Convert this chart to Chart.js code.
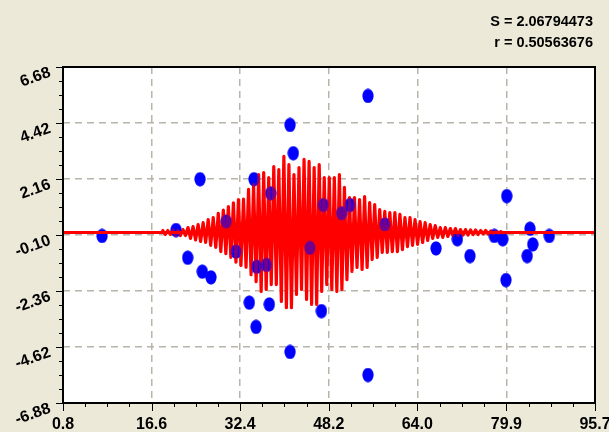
<!DOCTYPE html>
<html>
<head>
<meta charset="utf-8">
<script src="https://cdn.jsdelivr.net/npm/chart.js@4.4.1/dist/chart.umd.min.js"></script>
<style>
  html, body { margin: 0; padding: 0; background: #ece9d8; }
  canvas { display: block; }
</style>
</head>
<body>
<canvas id="residualChart" width="609" height="432"></canvas>
<script>
// axis ticks
const xTicks = [0.8, 16.6, 32.4, 48.2, 64.0, 79.9, 95.7];
const xTickLabels = ['0.8', '16.6', '32.4', '48.2', '64.0', '79.9', '95.7'];
const yTicks = [6.68, 4.42, 2.16, -0.10, -2.36, -4.62, -6.88];
const yTickLabels = ['6.68', '4.42', '2.16', '-0.10', '-2.36', '-4.62', '-6.88'];

// fit statistics shown top right
const statLines = ['S = 2.06794473', 'r = 0.50563676'];

// residual points
const pointX = [7.76, 20.96, 23.05, 25.65, 27.2, 25.24, 34.03, 37.6, 34.87, 41.88,
  46.9, 37.85, 35.35, 37.1, 31.66, 29.9, 47.23, 50.5, 52.0, 41.3,
  55.2, 41.3, 55.2, 35.23, 44.86, 58.2, 67.34, 71.14, 73.4, 77.75,
  79.24, 79.96, 79.82, 84.1, 84.6, 83.6, 87.55];
const pointY = [-0.14, 0.10, -1.02, -1.58, -1.81, 2.15, -2.83, -2.90, 2.15, 3.20,
  -3.17, 1.58, -1.38, -1.31, -0.77, 0.44, 1.11, 0.78, 1.11, 4.34,
  5.51, -4.82, -5.75, -3.81, -0.62, 0.32, -0.64, -0.27, -0.95, -0.14,
  -0.27, 1.47, -1.92, 0.15, -0.48, -0.95, -0.14];

// oscillating fit curve (alternating crest / trough samples)
const waveX = [
  18.6, 19.05, 19.5, 19.95, 20.4, 20.85, 21.3, 21.75, 22.2, 22.65,
  23.1, 23.55, 24.0, 24.45, 24.9, 25.35, 25.8, 26.25, 26.7, 27.15,
  27.6, 28.05, 28.5, 28.95, 29.4, 29.85, 30.3, 30.75, 31.2, 31.65,
  32.1, 32.55, 33.0, 33.45, 33.9, 34.35, 34.8, 35.25, 35.7, 36.15,
  36.6, 37.05, 37.5, 37.95, 38.4, 38.85, 39.3, 39.75, 40.2, 40.65,
  41.1, 41.55, 42.0, 42.45, 42.9, 43.35, 43.8, 44.25, 44.7, 45.15,
  45.6, 46.05, 46.5, 46.95, 47.4, 47.85, 48.3, 48.75, 49.2, 49.65,
  50.1, 50.55, 51.0, 51.45, 51.9, 52.35, 52.8, 53.25, 53.7, 54.15,
  54.6, 55.05, 55.5, 55.95, 56.4, 56.85, 57.3, 57.75, 58.2, 58.65,
  59.1, 59.55, 60.0, 60.45, 60.9, 61.35, 61.8, 62.25, 62.7, 63.15,
  63.6, 64.05, 64.5, 64.95, 65.4, 65.85, 66.3, 66.75, 67.2, 67.65,
  68.1, 68.55, 69.0, 69.45, 69.9, 70.35, 70.8, 71.25, 71.7, 72.15,
  72.6, 73.05, 73.5, 73.95, 74.4, 74.85, 75.3, 75.75, 76.2, 76.65,
  77.1, 77.55, 78.0, 78.45, 78.9, 79.35
];
const waveY = [
  0.08, -0.08, 0.08, -0.08, 0.10, -0.10, 0.08, -0.12, 0.12, -0.12,
  0.20, -0.24, 0.24, -0.30, 0.32, -0.36, 0.40, -0.40, 0.52, -0.52,
  0.60, -0.60, 0.77, -0.77, 0.90, -0.85, 1.05, -1.00, 1.20, -1.20,
  1.33, -1.33, 1.35, -1.40, 1.74, -1.70, 1.94, -1.98, 2.34, -2.38,
  2.42, -2.30, 2.22, -2.10, 2.66, -2.10, 2.54, -2.78, 3.07, -3.03,
  2.74, -3.03, 2.34, -2.50, 2.62, -2.30, 2.95, -2.70, 2.87, -2.90,
  2.62, -2.90, 2.74, -2.38, 2.22, -2.10, 2.22, -2.30, 2.22, -2.38,
  2.34, -2.30, 1.82, -1.90, 1.41, -1.57, 1.41, -1.41, 1.33, -1.49,
  1.45, -1.41, 1.21, -1.09, 1.13, -1.00, 0.93, -0.80, 0.85, -0.80,
  0.80, -0.77, 0.80, -0.77, 0.73, -0.69, 0.60, -0.57, 0.60, -0.52,
  0.52, -0.48, 0.44, -0.40, 0.40, -0.32, 0.32, -0.24, 0.28, -0.20,
  0.20, -0.20, 0.20, -0.16, 0.16, -0.12, 0.16, -0.12, 0.12, -0.10,
  0.12, -0.10, 0.10, -0.08, 0.10, -0.08, 0.08, -0.06, 0.08, -0.06,
  0.06, -0.05, 0.05, -0.04, 0.04, -0.03
];

// zero residual line
const baseX = [0.8, 95.7];
const baseY = [0, 0];

function makeEllipse(color) {
  const c = document.createElement('canvas');
  c.width = 12;
  c.height = 15;
  const g = c.getContext('2d');
  g.fillStyle = color;
  g.beginPath();
  g.ellipse(6, 7.5, 5.5, 7, 0, 0, Math.PI * 2);
  g.fill();
  return c;
}

const points = pointX.map((x, i) => ({ x: x, y: pointY[i] }));
const wave = waveX.map((x, i) => ({ x: x, y: waveY[i] }));
const base = baseX.map((x, i) => ({ x: x, y: baseY[i] }));

// frame, minor ticks, rotated y labels, header text
const framePlugin = {
  id: 'framePlugin',
  beforeDraw(chart) {
    const { ctx, chartArea: a } = chart;
    ctx.save();
    ctx.fillStyle = '#ece9d8';
    ctx.fillRect(0, 0, chart.width, chart.height);
    ctx.fillStyle = '#ffffff';
    ctx.fillRect(a.left, a.top, a.right - a.left, a.bottom - a.top);
    ctx.restore();
  },
  afterDraw(chart) {
    const { ctx, chartArea: a } = chart;
    const xs = chart.scales.x;
    const ys = chart.scales.y;
    ctx.save();
    ctx.strokeStyle = '#000000';
    ctx.lineWidth = 2;
    ctx.strokeRect(a.left, a.top, a.right - a.left, a.bottom - a.top);

    ctx.lineWidth = 1;
    ctx.beginPath();
    for (let i = 0; i < xTicks.length; i++) {
      const px = Math.round(xs.getPixelForValue(xTicks[i])) + 0.5;
      ctx.moveTo(px, a.bottom);
      ctx.lineTo(px, a.bottom + 8);
      if (i < xTicks.length - 1) {
        const step = (xTicks[i + 1] - xTicks[i]) / 4;
        for (let m = 1; m < 4; m++) {
          const mx = Math.round(xs.getPixelForValue(xTicks[i] + step * m)) + 0.5;
          ctx.moveTo(mx, a.bottom);
          ctx.lineTo(mx, a.bottom + 4);
        }
      }
    }
    for (let i = 0; i < yTicks.length; i++) {
      const py = Math.round(ys.getPixelForValue(yTicks[i])) + 0.5;
      ctx.moveTo(a.left, py);
      ctx.lineTo(a.left - 7, py);
      if (i < yTicks.length - 1) {
        const step = (yTicks[i + 1] - yTicks[i]) / 4;
        for (let m = 1; m < 4; m++) {
          const my = Math.round(ys.getPixelForValue(yTicks[i] + step * m)) + 0.5;
          ctx.moveTo(a.left, my);
          ctx.lineTo(a.left - 4, my);
        }
      }
    }
    ctx.stroke();

    ctx.fillStyle = '#000000';
    ctx.font = 'bold 16px "Liberation Sans", Arial, sans-serif';
    ctx.textAlign = 'center';
    ctx.textBaseline = 'alphabetic';
    xTicks.forEach((v, i) => {
      ctx.fillText(xTickLabels[i], xs.getPixelForValue(v), a.bottom + 26);
    });

    ctx.font = 'bold 16px "Liberation Sans", Arial, sans-serif';
    ctx.textAlign = 'right';
    ctx.textBaseline = 'middle';
    yTicks.forEach((v, i) => {
      ctx.save();
      ctx.translate(a.left - 13, ys.getPixelForValue(v) + 5);
      ctx.rotate(-20 * Math.PI / 180);
      ctx.fillText(yTickLabels[i], 0, 0);
      ctx.restore();
    });

    ctx.font = 'bold 14.5px "Liberation Sans", Arial, sans-serif';
    ctx.textAlign = 'right';
    ctx.textBaseline = 'alphabetic';
    ctx.fillText(statLines[0], 593, 26);
    ctx.fillText(statLines[1], 593, 47);
    ctx.restore();
  }
};

const gridColor = (ctx) => {
  const n = ctx.scale.ticks.length;
  return (ctx.index === 0 || ctx.index === n - 1) ? 'rgba(0,0,0,0)' : '#b8b4a8';
};

new Chart(document.getElementById('residualChart'), {
  type: 'scatter',
  data: {
    datasets: [
      {
        label: 'points',
        data: points,
        pointStyle: makeEllipse('#0000ff'),
        pointRadius: 6,
        order: 4
      },
      {
        label: 'wave',
        data: wave,
        showLine: true,
        borderColor: '#ff0000',
        borderWidth: 3.2,
        borderJoinStyle: 'round',
        borderCapStyle: 'round',
        tension: 0,
        pointRadius: 0,
        order: 3
      },
      {
        label: 'points overlay',
        data: points,
        pointStyle: makeEllipse('rgba(0,0,255,0.55)'),
        pointRadius: 6,
        order: 2
      },
      {
        label: 'zero',
        data: base,
        showLine: true,
        borderColor: '#ff0000',
        borderWidth: 3,
        pointRadius: 0,
        order: 1
      }
    ]
  },
  options: {
    responsive: false,
    animation: false,
    events: [],
    layout: { padding: { top: 67, right: 14, left: 0, bottom: 0 } },
    scales: {
      x: {
        type: 'linear',
        min: 0.8,
        max: 95.7,
        afterBuildTicks: (scale) => { scale.ticks = xTicks.map(v => ({ value: v })); },
        afterFit: (scale) => { scale.height = 29; },
        ticks: { display: false },
        grid: { color: gridColor, lineWidth: 1.5, drawTicks: false },
        border: { display: false, dash: [7, 5] }
      },
      y: {
        type: 'linear',
        min: -6.88,
        max: 6.68,
        afterBuildTicks: (scale) => { scale.ticks = yTicks.map(v => ({ value: v })); },
        afterFit: (scale) => { scale.width = 63; },
        ticks: { display: false },
        grid: { color: gridColor, lineWidth: 1.5, drawTicks: false },
        border: { display: false, dash: [7, 5] }
      }
    },
    plugins: {
      legend: { display: false },
      tooltip: { enabled: false },
      title: { display: false }
    }
  },
  plugins: [framePlugin]
});
</script>
</body>
</html>
